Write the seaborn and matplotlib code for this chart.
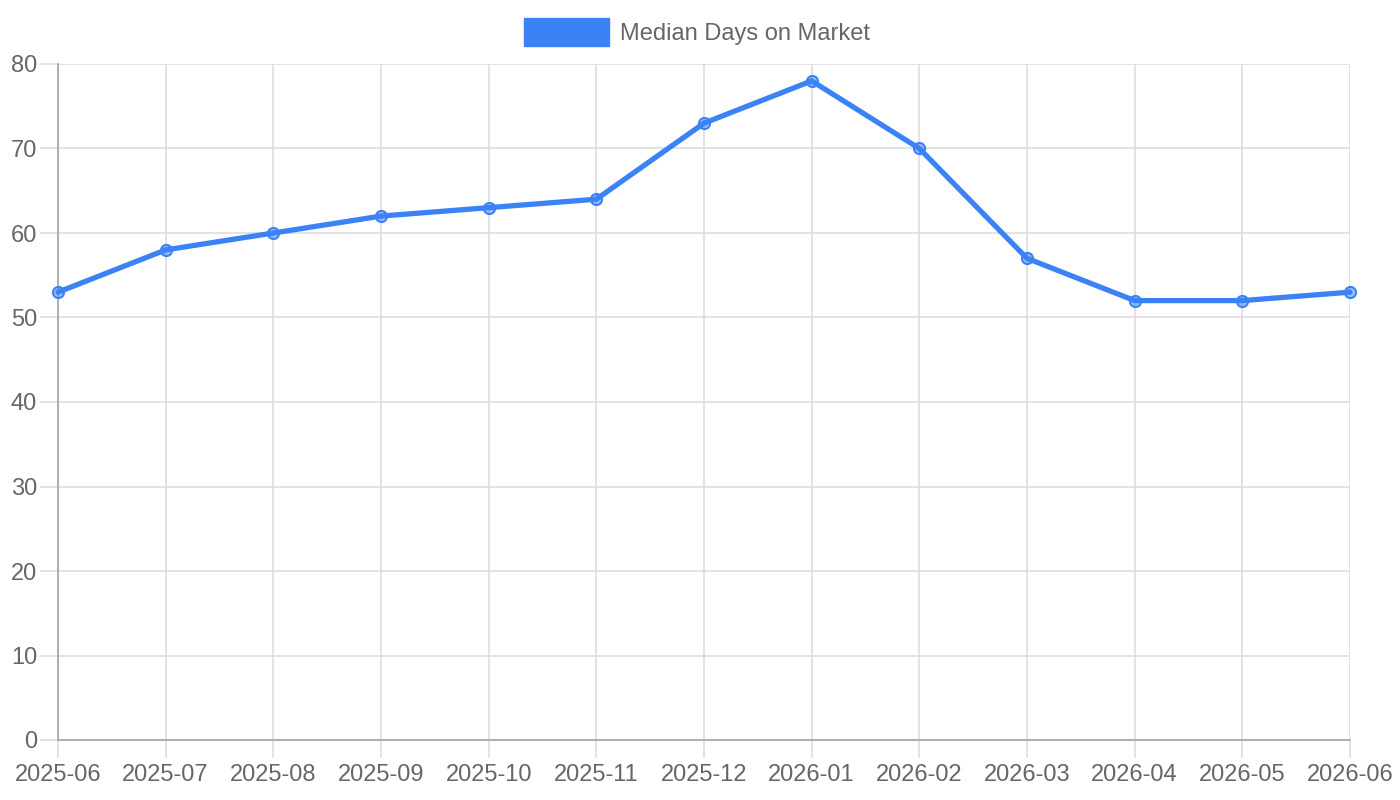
import matplotlib
matplotlib.use("Agg")
import matplotlib.pyplot as plt
from matplotlib.patches import Patch
import seaborn as sns
import pandas as pd

months = ["2025-06", "2025-07", "2025-08", "2025-09", "2025-10", "2025-11", "2025-12",
          "2026-01", "2026-02", "2026-03", "2026-04", "2026-05", "2026-06"]
median_days = [53, 58, 60, 62, 63, 64, 73, 78, 70, 57, 52, 52, 53]
y_ticks = [0, 10, 20, 30, 40, 50, 60, 70, 80]

sns.set_theme(style="white")
plt.rcParams['font.family'] = ['Liberation Sans', 'DejaVu Sans']

blue = "#3b82f6"
grid_c = "#dedede"
text_c = "#666666"

df = pd.DataFrame({"month": months, "days": median_days})
df["pos"] = range(len(months))

fig = plt.figure(figsize=(14, 8), dpi=100)
ax = fig.add_axes([58 / 1400, 1 - 740 / 800, (1350 - 58) / 1400, (740 - 64) / 800])

sns.lineplot(data=df, x="pos", y="days", ax=ax, color=blue, linewidth=3.8,
             marker="o", markersize=8, markerfacecolor=(59/255, 130/255, 246/255, 0.5),
             markeredgecolor=blue, markeredgewidth=1.5, zorder=3, clip_on=False)

ax.set_xlim(0, len(months) - 1)
ax.set_ylim(0, 80)
ax.set_xticks(df["pos"])
ax.set_xticklabels(months)
ax.set_yticks(y_ticks)
ax.set_xlabel("")
ax.set_ylabel("")

ax.grid(True, color=grid_c, linewidth=1.2, zorder=0)
ax.set_axisbelow(True)
for side in ["top", "right"]:
    ax.spines[side].set_visible(False)
for side in ["left", "bottom"]:
    ax.spines[side].set_color("#aaaaaa")
    ax.spines[side].set_linewidth(1.3)
ax.tick_params(axis="both", length=13, width=1.2, color=grid_c, labelsize=17,
               labelcolor=text_c)
ax.tick_params(axis="x", bottom=True, pad=4)
ax.tick_params(axis="y", left=True, pad=2)

handle = Patch(facecolor=blue, edgecolor=blue, label="Median Days on Market")
fig.legend(handles=[handle], loc="center", bbox_to_anchor=(0.498, 1 - 32 / 800),
           frameon=False, fontsize=17, labelcolor=text_c,
           handlelength=3.6, handleheight=1.45, handletextpad=0.45)

fig.savefig("out.png", dpi=100)
